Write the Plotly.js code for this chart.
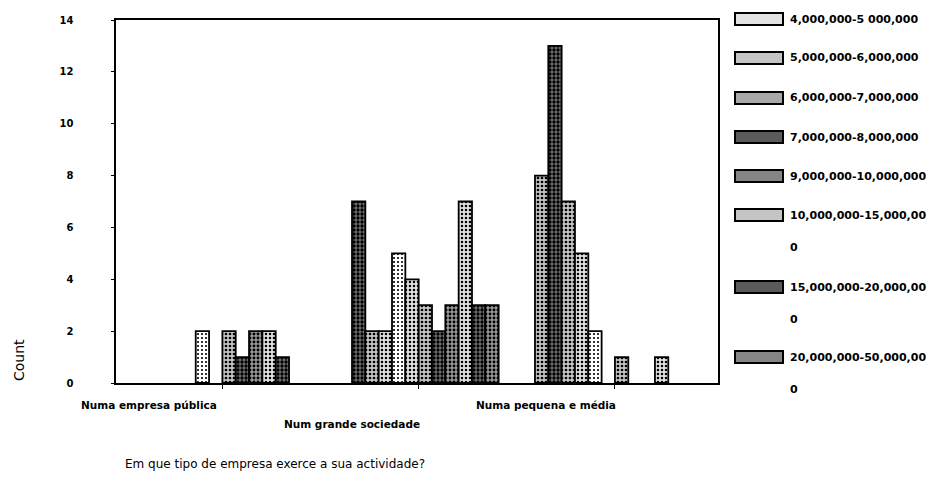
<!DOCTYPE html>
<html><head><meta charset="utf-8">
<script src="https://cdn.plot.ly/plotly-3.0.1.min.js"></script>
<style>html,body{margin:0;padding:0;background:#fff}#chart{width:928px;height:478px}</style>
</head><body><div id="chart"></div>
<script>
// ---- data ----
const categories = ['Numa empresa pública', 'Num grande sociedade', 'Numa pequena e média'];
// counts per income band, one array per band (12 bands; the legend only shows the last 8)
const band01 = [0, 0, 8];
const band02 = [0, 7, 13];
const band03 = [0, 2, 7];
const band04 = [0, 2, 5];
const band05 = [2, 5, 2];
const band06 = [0, 4, 0];
const band07 = [2, 3, 1];
const band08 = [1, 2, 0];
const band09 = [2, 3, 0];
const band10 = [2, 7, 1];
const band11 = [1, 3, 0];
const band12 = [0, 3, 0];
const legendLabels = ['4,000,000-5 000,000', '5,000,000-6,000,000', '6,000,000-7,000,000',
  '7,000,000-8,000,000', '9,000,000-10,000,000', '10,000,000-15,000,000',
  '15,000,000-20,000,000', '20,000,000-50,000,000'];
const yTickVals = [0, 2, 4, 6, 8, 10, 12, 14];
const xTitle = 'Em que tipo de empresa exerce a sua actividade?';
const yTitle = 'Count';

// ---- styles ----
const bands = [band01, band02, band03, band04, band05, band06, band07, band08, band09, band10, band11, band12];
const tones = ['M', 'D', 'M', 'LM', 'L', 'LM', 'M', 'D', 'MD', 'LM', 'D', 'MD'];
const toneStyle = {
  L:  {bg: '#ffffff', sol: 0.22, sw: '#e2e2e2'},
  LM: {bg: '#e0e0e0', sol: 0.32, sw: '#c4c4c4'},
  M:  {bg: '#c4c4c4', sol: 0.36, sw: '#a8a8a8'},
  MD: {bg: '#9a9a9a', sol: 0.42, sw: '#858585'},
  D:  {bg: '#727272', sol: 0.52, sw: '#5a5a5a'}
};
const firstLegendBand = 4;
const FONT = 'DejaVu Sans';

const W = 928, H = 478, L = 116, R = 718, T = 20, B = 383;
const px = x => (x - L) / (R - L);
const py = y => (B - y) / (B - T);

const traces = bands.map((vals, i) => {
  const st = toneStyle[tones[i]];
  return {
    type: 'bar', x: categories, y: vals,
    name: i >= firstLegendBand ? legendLabels[i - firstLegendBand] : ' ',
    showlegend: false,
    marker: {
      color: st.bg,
      line: {color: '#000', width: vals.map(v => (v ? 1.8 : 0))},
      pattern: {shape: '.', fgcolor: '#000', bgcolor: st.bg, size: 4, solidity: st.sol, fillmode: 'replace'}
    },
    hoverinfo: 'name+y'
  };
});

const annotations = [];
const shapes = [];
// category labels (staggered, right aligned to the tick)
const labelRow = [405, 424, 405];
const labelShift = [-3, 3, 3];
categories.forEach((c, i) => {
  annotations.push({xref: 'x', yref: 'paper', x: c, y: 0, xanchor: 'right', yanchor: 'middle',
    xshift: labelShift[i], yshift: -(labelRow[i] - B), showarrow: false, text: c,
    font: {family: FONT, size: 10.5, weight: 'bold', color: '#000'}});
});
annotations.push({xref: 'paper', yref: 'paper', x: px(123), y: py(464), xanchor: 'left', yanchor: 'middle',
  showarrow: false, text: xTitle, font: {family: FONT, size: 12, color: '#000'}});
annotations.push({xref: 'paper', yref: 'paper', x: px(19), y: py(360), xanchor: 'center', yanchor: 'middle',
  showarrow: false, textangle: -90, text: yTitle, font: {family: FONT, size: 14, color: '#000'}});

// legend drawn by hand (wide swatches, labels wrapped at 20 characters)
const legendY = [19, 58, 98, 137, 176, 215, 287, 357];
legendLabels.forEach((lab, k) => {
  const st = toneStyle[tones[k + firstLegendBand]];
  const yc = legendY[k];
  shapes.push({type: 'rect', xref: 'paper', yref: 'paper', x0: px(735), x1: px(783), y0: py(yc + 6), y1: py(yc - 6),
    fillcolor: st.sw, line: {color: '#000', width: 2}});
  const lines = lab.length > 20 ? [lab.slice(0, 20), lab.slice(20)] : [lab];
  lines.forEach((ln, j) => {
    annotations.push({xref: 'paper', yref: 'paper', x: px(788), y: py(yc + j * 32), xanchor: 'left', yanchor: 'middle',
      showarrow: false, text: ln, font: {family: FONT, size: 11, weight: 'bold', color: '#000'}});
  });
});

const layout = {
  width: W, height: H,
  margin: {l: L, r: W - R, t: T, b: H - B, pad: 0},
  paper_bgcolor: '#fff', plot_bgcolor: '#fff',
  barmode: 'group', bargap: 0.185, bargroupgap: 0,
  showlegend: false,
  xaxis: {type: 'category', categoryarray: categories, range: [-0.542, 2.525],
    showline: true, linecolor: '#000', linewidth: 1.6, mirror: true,
    ticks: 'outside', ticklen: 4, tickcolor: '#000', showticklabels: false,
    showgrid: false, zeroline: false, fixedrange: true},
  yaxis: {range: [0, 14], tickvals: yTickVals, ticktext: yTickVals.map(String),
    showline: true, linecolor: '#000', linewidth: 1.6, mirror: true,
    ticks: 'outside', ticklen: 3, tickcolor: '#000', ticklabelstandoff: 36,
    tickfont: {family: FONT, size: 10, weight: 'bold', color: '#000'},
    showgrid: false, zeroline: false, fixedrange: true},
  annotations: annotations,
  shapes: shapes
};

Plotly.newPlot('chart', traces, layout, {displayModeBar: false, staticPlot: true});
</script></body></html>
